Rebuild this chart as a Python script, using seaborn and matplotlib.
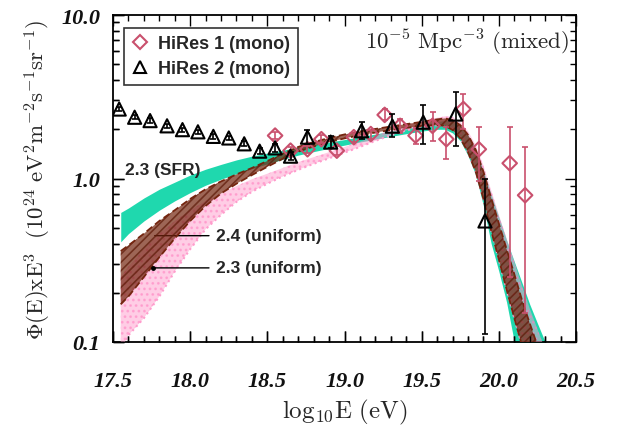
import numpy as np
import pandas as pd
import matplotlib
matplotlib.use("Agg")
import matplotlib.pyplot as plt
from matplotlib.lines import Line2D
from matplotlib.ticker import NullFormatter, FixedLocator, FixedFormatter
import seaborn as sns

# ---------------- data ----------------
# HiRes 1 (mono)
hr1_logE = [18.55, 18.65, 18.76, 18.85, 18.95, 19.06, 19.17, 19.26, 19.36, 19.46,
            19.57, 19.66, 19.77, 19.87, 20.07, 20.17]
hr1_flux = [1.83, 1.48, 1.51, 1.74, 1.48, 1.79, 1.87, 2.45, 2.10, 1.83,
            2.10, 1.74, 2.66, 1.51, 1.24, 0.79]
hr1_lo = [1.74, 1.41, 1.43, 1.64, 1.39, 1.68, 1.75, 2.27, 1.90, 1.62,
          1.70, 1.32, 2.00, 0.97, 0.25, 0.15]
hr1_hi = [1.92, 1.56, 1.59, 1.84, 1.57, 1.90, 1.99, 2.65, 2.32, 2.05,
          2.55, 2.07, 3.29, 2.07, 2.07, 1.55]

# HiRes 2 (mono)
hr2_logE = [17.54, 17.64, 17.74, 17.85, 17.95, 18.05, 18.15, 18.25, 18.35, 18.45,
            18.55, 18.65, 18.76, 18.91, 19.11, 19.31, 19.51, 19.72, 19.91]
hr2_flux = [2.66, 2.37, 2.26, 2.10, 1.99, 1.93, 1.81, 1.77, 1.63, 1.47,
            1.54, 1.37, 1.79, 1.67, 1.96, 2.09, 2.21, 2.48, 0.55]
hr2_lo = [2.58, 2.30, 2.19, 2.04, 1.93, 1.87, 1.75, 1.71, 1.57, 1.41,
          1.46, 1.29, 1.62, 1.53, 1.74, 1.79, 1.63, 1.59, 0.112]
hr2_hi = [2.74, 2.44, 2.33, 2.16, 2.05, 1.99, 1.87, 1.83, 1.69, 1.53,
          1.62, 1.45, 1.97, 1.82, 2.22, 2.48, 2.81, 3.39, 0.99]

# model bands
model_logE = [17.55, 17.6, 17.7, 17.8, 17.9, 18.0, 18.1, 18.2, 18.3, 18.4,
              18.5, 18.6, 18.7, 18.8, 18.9, 19.0, 19.1, 19.2, 19.3, 19.4,
              19.5, 19.6, 19.65, 19.7, 19.75, 19.8, 19.85, 19.9, 19.95, 20.0,
              20.05, 20.1, 20.15, 20.2, 20.25, 20.3, 20.35, 20.4]
sfr23_lo = [0.41, 0.46, 0.55, 0.64, 0.73, 0.82, 0.91, 0.99, 1.07, 1.15,
            1.23, 1.31, 1.39, 1.46, 1.53, 1.60, 1.67, 1.74, 1.81, 1.88,
            1.95, 2.00, 2.00, 1.90, 1.70, 1.38, 1.05, 0.68, 0.40, 0.27,
            0.175, 0.10, 0.07, 0.05, 0.05, 0.05, 0.05, 0.05]
sfr23_hi = [0.62, 0.66, 0.76, 0.86, 0.95, 1.05, 1.14, 1.22, 1.30, 1.37,
            1.43, 1.49, 1.55, 1.61, 1.67, 1.73, 1.80, 1.87, 1.95, 2.03,
            2.12, 2.22, 2.27, 2.25, 2.10, 1.85, 1.50, 1.12, 0.80, 0.58,
            0.42, 0.31, 0.23, 0.17, 0.13, 0.10, 0.075, 0.05]
uni24_lo = [0.17, 0.19, 0.25, 0.33, 0.43, 0.55, 0.68, 0.81, 0.93, 1.05,
            1.18, 1.32, 1.46, 1.57, 1.67, 1.76, 1.84, 1.91, 1.98, 2.04,
            2.10, 2.12, 2.10, 1.98, 1.76, 1.45, 1.10, 0.75, 0.48, 0.32,
            0.21, 0.14, 0.095, 0.07, 0.05, 0.05, 0.05, 0.05]
uni24_hi = [0.36, 0.39, 0.46, 0.55, 0.64, 0.75, 0.86, 0.96, 1.06, 1.16,
            1.28, 1.42, 1.56, 1.67, 1.77, 1.86, 1.94, 2.01, 2.08, 2.15,
            2.22, 2.30, 2.33, 2.28, 2.12, 1.85, 1.50, 1.10, 0.76, 0.53,
            0.37, 0.26, 0.18, 0.13, 0.095, 0.07, 0.05, 0.05]
uni23_lo = [0.09, 0.11, 0.14, 0.19, 0.27, 0.37, 0.49, 0.60, 0.72, 0.83,
            0.93, 1.03, 1.13, 1.23, 1.33, 1.44, 1.56, 1.70, 1.84, 1.97,
            2.07, 2.12, 2.12, 2.00, 1.78, 1.45, 1.10, 0.75, 0.48, 0.32,
            0.21, 0.14, 0.095, 0.07, 0.05, 0.05, 0.05, 0.05]
uni23_hi = [0.25, 0.29, 0.37, 0.46, 0.55, 0.64, 0.73, 0.81, 0.90, 0.99,
            1.07, 1.16, 1.26, 1.35, 1.45, 1.56, 1.68, 1.82, 1.97, 2.12,
            2.25, 2.35, 2.40, 2.38, 2.20, 1.95, 1.60, 1.20, 0.85, 0.60,
            0.43, 0.31, 0.22, 0.16, 0.12, 0.09, 0.07, 0.05]

x_ticks = [17.5, 18.0, 18.5, 19.0, 19.5, 20.0, 20.5]
x_ticklabels = ["17.5", "18.0", "18.5", "19.0", "19.5", "20.0", "20.5"]
x_minor = [17.6, 17.7, 17.8, 17.9, 18.1, 18.2, 18.3, 18.4, 18.6, 18.7, 18.8, 18.9,
           19.1, 19.2, 19.3, 19.4, 19.6, 19.7, 19.8, 19.9, 20.1, 20.2, 20.3, 20.4]
y_ticks = [0.1, 1.0, 10.0]
y_ticklabels = ["0.1", "1.0", "10.0"]
y_minor = [0.2, 0.3, 0.4, 0.5, 0.6, 0.7, 0.8, 0.9, 2, 3, 4, 5, 6, 7, 8, 9]

# ---------------- style ----------------
sns.set_theme(style="ticks")
plt.rcParams["font.family"] = ["DejaVu Sans"]
plt.rcParams["mathtext.fontset"] = "cm"
plt.rcParams["hatch.linewidth"] = 1.2
plt.rcParams["axes.axisbelow"] = False

GREEN = "#1fd8ae"
BROWN = "#74250f"
PINK = "#ff9ccc"
RED = "#c9506d"
AX_RECT = [0.1826, 0.2115, 0.748, 0.7517]

fig = plt.figure(figsize=(6.19, 4.35), dpi=100)
ax = fig.add_axes(AX_RECT)
ax.set_yscale("log")

# bands
ax.fill_between(model_logE, sfr23_lo, sfr23_hi, color=GREEN, lw=0, zorder=2)
ax.fill_between(model_logE, uni23_lo, uni23_hi, facecolor=PINK, alpha=0.5,
                edgecolor="#ff7fbf", hatch="...", lw=0, zorder=3)
ax.fill_between(model_logE, uni24_lo, uni24_hi, facecolor=BROWN, alpha=0.7,
                edgecolor="#5e1a08", hatch="////", lw=0, zorder=4)
band_df = pd.DataFrame({"logE": model_logE, "lo": uni24_lo, "hi": uni24_hi,
                        "plo": uni23_lo, "phi": uni23_hi})
sns.lineplot(data=band_df, x="logE", y="hi", ax=ax, color=BROWN, lw=1.3,
             ls=(0, (4, 2)), zorder=5)
sns.lineplot(data=band_df, x="logE", y="lo", ax=ax, color=BROWN, lw=1.3,
             ls=(0, (4, 2)), zorder=5)
sns.lineplot(data=band_df, x="logE", y="plo", ax=ax, color=PINK, lw=1.5,
             ls=":", zorder=3)

# data points
ax.errorbar(hr1_logE, hr1_flux,
            yerr=[np.array(hr1_flux) - np.array(hr1_lo), np.array(hr1_hi) - np.array(hr1_flux)],
            fmt="none", ecolor=RED, elinewidth=1.2, capsize=2.5, capthick=1.2, zorder=6)
sns.scatterplot(x=hr1_logE, y=hr1_flux, ax=ax, marker="D", s=55,
                facecolor="none", edgecolor=RED, linewidth=1.5, zorder=7)
ax.errorbar(hr2_logE, hr2_flux,
            yerr=[np.array(hr2_flux) - np.array(hr2_lo), np.array(hr2_hi) - np.array(hr2_flux)],
            fmt="none", ecolor="black", elinewidth=1.2, capsize=2.5, capthick=1.2, zorder=8)
sns.scatterplot(x=hr2_logE, y=hr2_flux, ax=ax, marker="^", s=90,
                facecolor="none", edgecolor="black", linewidth=1.5, zorder=9)

ax.set_xlabel(r"$\mathrm{log_{10}E\ (eV)}$", fontsize=18, labelpad=4)
ax.set_ylabel(r"$\mathrm{\Phi(E)xE^3\ \ (10^{24}\ eV^2m^{-2}s^{-1}sr^{-1})}$",
              fontsize=16.5, labelpad=6)

ax.text(0.985, 0.967, r"$\mathrm{10^{-5}\ Mpc^{-3}\ (mixed)}$", transform=ax.transAxes,
        ha="right", va="top", fontsize=16.5)

# annotations
ann_font = dict(fontfamily="Liberation Sans", fontweight="bold", fontsize=12.5)
ax.text(17.58, 1.14, "2.3 (SFR)", ha="left", va="center", **ann_font)
ax.annotate("2.4 (uniform)", xy=(17.77, 0.447), xytext=(18.17, 0.447),
            ha="left", va="center", arrowprops=dict(arrowstyle="-", color="black", lw=1.0,
                                                    shrinkA=3, shrinkB=0), **ann_font)
ax.annotate("2.3 (uniform)", xy=(17.76, 0.284), xytext=(18.17, 0.284),
            ha="left", va="center", arrowprops=dict(arrowstyle="-", color="black", lw=1.0,
                                                    shrinkA=3, shrinkB=0), **ann_font)
ax.plot([17.76], [0.284], "o", color="black", ms=2.5, zorder=10)

# legend
handles = [Line2D([], [], marker="D", ls="none", markerfacecolor="none",
                  markeredgecolor=RED, markeredgewidth=1.5, ms=7),
           Line2D([], [], marker="^", ls="none", markerfacecolor="none",
                  markeredgecolor="black", markeredgewidth=1.5, ms=9)]
leg = ax.legend(handles, ["HiRes 1 (mono)", "HiRes 2 (mono)"], loc="upper left",
                bbox_to_anchor=(0.024, 0.96), frameon=True, fancybox=False,
                edgecolor="black", handletextpad=0.5, handlelength=1.0,
                borderpad=0.4, labelspacing=0.45, borderaxespad=0.0,
                prop=dict(family="Liberation Sans", weight="bold", size=13))
leg.get_frame().set_linewidth(1.2)


def setup_axis(a):
    a.set_xlim(17.5, 20.5)
    a.set_ylim(0.1, 10.0)
    a.xaxis.set_major_locator(FixedLocator(x_ticks))
    a.xaxis.set_major_formatter(FixedFormatter(x_ticklabels))
    a.xaxis.set_minor_locator(FixedLocator(x_minor))
    a.xaxis.set_minor_formatter(NullFormatter())
    a.yaxis.set_major_locator(FixedLocator(y_ticks))
    a.yaxis.set_major_formatter(FixedFormatter(y_ticklabels))
    a.yaxis.set_minor_locator(FixedLocator(y_minor))
    a.yaxis.set_minor_formatter(NullFormatter())
    a.tick_params(which="both", direction="in", color="black", width=1.0)
    a.tick_params(which="major", length=8)
    a.tick_params(which="minor", length=4)


# ---------------- main axes ----------------
setup_axis(ax)
ax.xaxis.set_ticks_position("both")
ax.yaxis.set_ticks_position("both")
ax.tick_params(which="both", direction="in", color="black", width=1.0)
ax.tick_params(axis="x", which="major", pad=21)
ax.tick_params(axis="y", which="major", pad=9)
for sp in ax.spines.values():
    sp.set_color("black")
    sp.set_linewidth(1.3)
for lab in ax.get_xticklabels() + ax.get_yticklabels():
    lab.set_fontfamily("Liberation Serif")
    lab.set_fontweight("bold")
    lab.set_fontstyle("italic")
    lab.set_fontsize(16)
    lab.set_color("#111111")

# ---------------- overlay axes carrying the left/bottom inward ticks ----------------
ax_t = fig.add_axes(AX_RECT, frameon=False, zorder=ax.get_zorder() + 1)
ax_t.set_yscale("log")
ax_t.patch.set_visible(False)
setup_axis(ax_t)
ax_t.xaxis.set_ticks_position("bottom")
ax_t.yaxis.set_ticks_position("left")
ax_t.tick_params(which="both", direction="in", color="black", width=1.0,
                 bottom=True, left=True, top=False, right=False,
                 labelbottom=False, labelleft=False, labeltop=False, labelright=False)
ax_t.tick_params(which="major", length=8)
ax_t.tick_params(which="minor", length=4)

fig.savefig("out.png", dpi=100)
